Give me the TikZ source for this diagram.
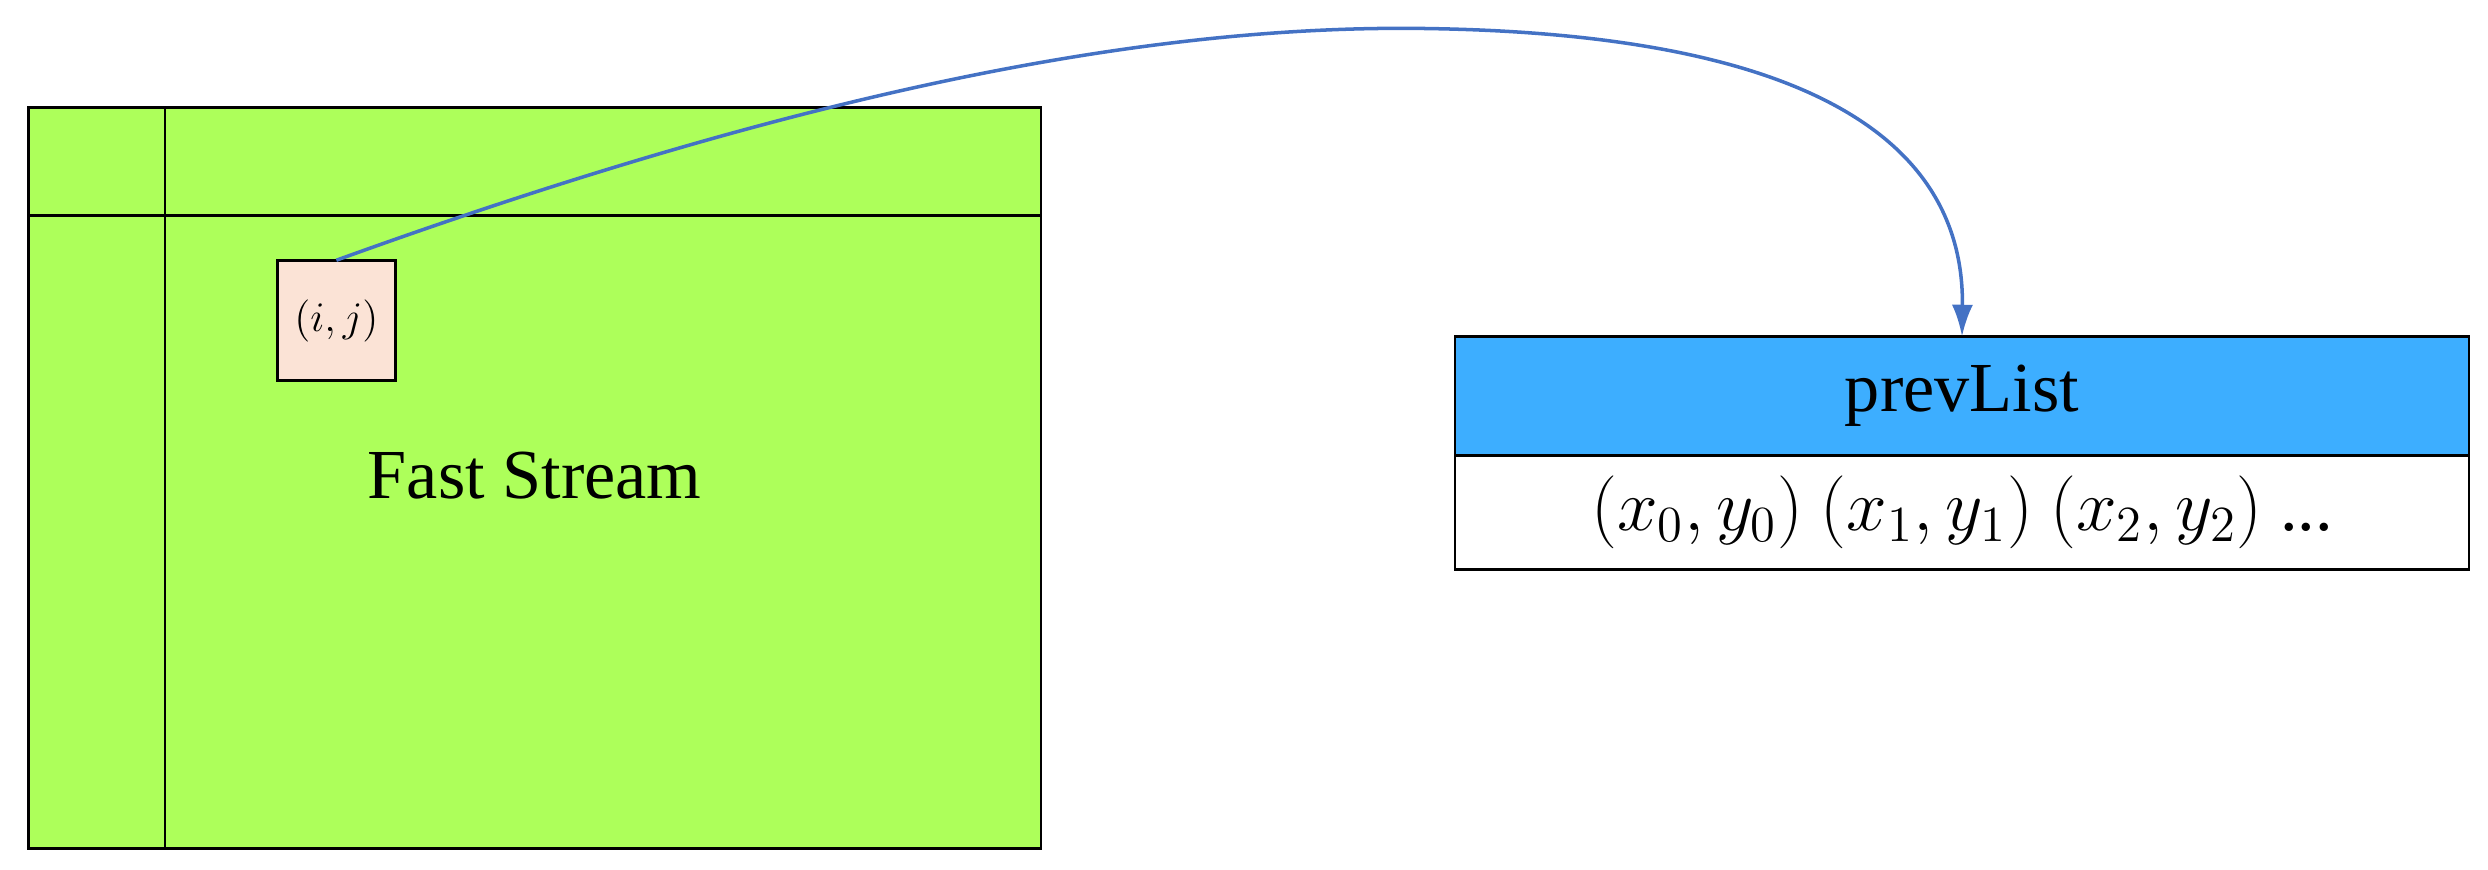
\documentclass[tikz,border=0pt]{standalone}
\usepackage{fontspec}
\setmainfont{Liberation Serif}
\usetikzlibrary{arrows.meta}
\definecolor{grn}{HTML}{ADFF5A}
\definecolor{pch}{HTML}{FBE3D6}
\definecolor{blu}{HTML}{3DAEFF}
\definecolor{arr}{HTML}{4472C4}
\begin{document}
\begin{tikzpicture}[x=0.01587cm,y=-0.01587cm,
  box/.style={draw=black,line width=0.8pt,inner sep=0pt,outer sep=0pt}]
\useasboundingbox (0,0) rectangle (1568,548);
\node[box,fill=grn,minimum width=638*0.01587cm,minimum height=467*0.01587cm,anchor=north west] (fs) at (18,68) {};
\draw[line width=0.8pt] (18,136) -- (656,136);
\draw[line width=0.8pt] (104,68) -- (104,535);
\node[box,fill=pch,minimum width=74*0.01587cm,minimum height=76*0.01587cm,anchor=north west,font=\fontsize{13}{15}\selectfont] (ij) at (175,164) {$(i,j)$};
\node[font=\fontsize{20}{24}\selectfont] (fst) at (337,300) {Fast Stream};
\node[box,fill=blu,minimum width=639*0.01587cm,minimum height=75*0.01587cm,anchor=north west,font=\fontsize{20}{24}\selectfont] (hd) at (917,212) {prevList};
\node[box,fill=white,minimum width=639*0.01587cm,minimum height=72*0.01587cm,anchor=north west,font=\fontsize{20}{24}\selectfont] (bd) at (917,287) {$(x_0, y_0)$ $(x_1, y_1)$ $(x_2, y_2)$ ...};
\draw[arr,line width=1pt,-{Latex[length=9pt,width=6pt]}] (ij.north) .. controls (500,60) and (720,15) .. (900,18) .. controls (1160,22) and (1238,100) .. (hd.north);
\end{tikzpicture}
\end{document}
